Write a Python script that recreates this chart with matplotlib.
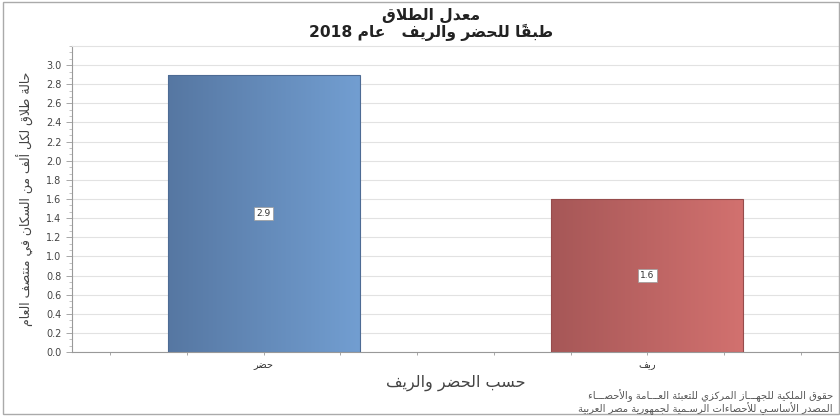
import re
import numpy as np
import matplotlib
matplotlib.use('Agg')
import matplotlib.pyplot as plt
from matplotlib.ticker import MultipleLocator, AutoMinorLocator
from matplotlib.colors import LinearSegmentedColormap
from matplotlib.patches import Rectangle

# Data
categories = ['حضر', 'ريف']
values = [2.9, 1.6]
title_1 = 'معدل الطلاق'
title_2 = 'طبقاً للحضر والريف   عام 2018'
x_title = 'حسب الحضر والريف'
y_title = 'حالة طلاق لكل ألف من السكان في منتصف العام'
footer_1 = 'حقوق الملكية للجهـــاز المركزي للتعبئة العـــامة والأحصـــاء'
footer_2 = 'المصدر الأساسـي للأحصاءات الرسـمية لجمهورية مصر العربية'

# Arabic presentation forms: (isolated, final, initial, medial)
FORMS = {
    'ء': ('\uFE80', None, None, None),
    'أ': ('\uFE83', '\uFE84', None, None),
    'ا': ('\uFE8D', '\uFE8E', None, None),
    'ب': ('\uFE8F', '\uFE90', '\uFE91', '\uFE92'),
    'ة': ('\uFE93', '\uFE94', None, None),
    'ت': ('\uFE95', '\uFE96', '\uFE97', '\uFE98'),
    'ئ': ('\uFE89', '\uFE8A', '\uFE8B', '\uFE8C'),
    'ج': ('\uFE9D', '\uFE9E', '\uFE9F', '\uFEA0'),
    'ح': ('\uFEA1', '\uFEA2', '\uFEA3', '\uFEA4'),
    'د': ('\uFEA9', '\uFEAA', None, None),
    'ر': ('\uFEAD', '\uFEAE', None, None),
    'ز': ('\uFEAF', '\uFEB0', None, None),
    'س': ('\uFEB1', '\uFEB2', '\uFEB3', '\uFEB4'),
    'ص': ('\uFEB9', '\uFEBA', '\uFEBB', '\uFEBC'),
    'ض': ('\uFEBD', '\uFEBE', '\uFEBF', '\uFEC0'),
    'ط': ('\uFEC1', '\uFEC2', '\uFEC3', '\uFEC4'),
    'ع': ('\uFEC9', '\uFECA', '\uFECB', '\uFECC'),
    'ف': ('\uFED1', '\uFED2', '\uFED3', '\uFED4'),
    'ق': ('\uFED5', '\uFED6', '\uFED7', '\uFED8'),
    'ك': ('\uFED9', '\uFEDA', '\uFEDB', '\uFEDC'),
    'ل': ('\uFEDD', '\uFEDE', '\uFEDF', '\uFEE0'),
    'م': ('\uFEE1', '\uFEE2', '\uFEE3', '\uFEE4'),
    'ن': ('\uFEE5', '\uFEE6', '\uFEE7', '\uFEE8'),
    'ه': ('\uFEE9', '\uFEEA', '\uFEEB', '\uFEEC'),
    'و': ('\uFEED', '\uFEEE', None, None),
    'ي': ('\uFEF1', '\uFEF2', '\uFEF3', '\uFEF4'),
    'ى': ('\uFEEF', '\uFEF0', None, None),
    'ـ': ('\u0640', '\u0640', '\u0640', '\u0640'),
}
LAM_ALEF = {'ا': ('\uFEFB', '\uFEFC'), 'أ': ('\uFEF7', '\uFEF8')}
MARKS = set('\u064B\u064C\u064D\u064E\u064F\u0650\u0651\u0652')


def ar(text):
    # join letters, then lay out right-to-left
    chars = list(text)
    letters = [i for i, c in enumerate(chars) if c not in MARKS]

    def nxt(k):
        return chars[letters[k + 1]] if k + 1 < len(letters) else None

    clusters = []
    prev_joins = False
    k = 0
    while k < len(letters):
        c = chars[letters[k]]
        if c not in FORMS:
            clusters.append(c)
            prev_joins = False
            k += 1
            continue
        f = FORMS[c]
        jp = prev_joins and f[1] is not None
        n = nxt(k)
        if c == 'ل' and n in LAM_ALEF:
            clusters.append(LAM_ALEF[n][1 if jp else 0])
            prev_joins = False
            k += 2
            continue
        jn = f[2] is not None and n in FORMS and FORMS[n][1] is not None
        g = f[3] if (jp and jn) else f[1] if jp else f[2] if jn else f[0]
        # attach following marks
        j = letters[k] + 1
        while j < len(chars) and chars[j] in MARKS:
            g += chars[j]
            j += 1
        clusters.append(g)
        prev_joins = jn
        k += 1
    s = ''.join(clusters[::-1])
    return re.sub(r'[0-9A-Za-z.]+', lambda m: m.group(0)[::-1], s)


plt.rcParams['font.family'] = 'DejaVu Sans'

fig = plt.figure(figsize=(8.4, 4.2), dpi=100)
ax = fig.add_axes([72 / 840, 1 - 352 / 420, 767 / 840, 306 / 420])

x = np.arange(len(categories))
bars = ax.bar(x, values, width=0.5, color='none', zorder=2)

grads = [('#5677a2', '#729ed1', '#4d6b94'), ('#a65757', '#d2716f', '#964c4c')]
for b, (c0, c1, ec) in zip(bars, grads):
    cmap = LinearSegmentedColormap.from_list('g', [c0, c1])
    bx, by = b.get_x(), b.get_y()
    im = ax.imshow(np.linspace(0, 1, 256).reshape(1, -1), cmap=cmap, aspect='auto',
                   extent=[bx, bx + b.get_width(), by, by + b.get_height()], zorder=2)
    im.set_clip_path(b)
    b.set_edgecolor(ec)
    b.set_linewidth(0.8)
    b.set_zorder(3)

for xi, v in zip(x, values):
    ax.text(xi, v / 2, str(v), ha='center', va='center', fontsize=6.5, color='#333333',
            bbox=dict(boxstyle='square,pad=0.25', fc='white', ec='#999999', lw=0.5), zorder=4)

ax.set_xlim(-0.5, 1.5)
ax.set_ylim(0, 3.2)
ax.set_yticks(np.arange(0, 3.01, 0.2))
ax.yaxis.set_minor_locator(AutoMinorLocator(3))
ax.yaxis.set_major_formatter(matplotlib.ticker.FormatStrFormatter('%.1f'))
ax.set_xticks(x)
ax.set_xticklabels([ar(c) for c in categories], fontsize=7, color='#333333')
ax.xaxis.set_minor_locator(MultipleLocator(0.2))
ax.tick_params(axis='y', labelsize=7, labelcolor='#444444', color='#999999', length=4, width=0.6)
ax.tick_params(axis='y', which='minor', color='#aaaaaa', length=2, width=0.5)
ax.tick_params(axis='x', which='both', color='#999999', length=2, width=0.6)
ax.grid(axis='y', color='#e2e2e2', lw=0.8, zorder=0)
ax.set_axisbelow(True)
ax.spines['right'].set_visible(False)
ax.spines['top'].set_color('#e2e2e2')
ax.spines['top'].set_linewidth(0.8)
for s in ['left', 'bottom']:
    ax.spines[s].set_color('#999999')
    ax.spines[s].set_linewidth(0.8)

ax.set_xlabel(ar(x_title), fontsize=11.5, color='#444444', labelpad=4)
ax.set_ylabel(ar(y_title), fontsize=9, color='#444444', labelpad=9)

fig.text(431 / 840, 1 - 15 / 420, ar(title_1), ha='center', va='center',
         fontsize=11.2, fontweight='bold', color='#222222')
fig.text(431 / 840, 1 - 32 / 420, ar(title_2), ha='center', va='center',
         fontsize=11.2, fontweight='bold', color='#222222')
fig.text(833 / 840, 1 - 396 / 420, ar(footer_1), ha='right', va='center', fontsize=7.2, color='#555555')
fig.text(833 / 840, 1 - 409 / 420, ar(footer_2), ha='right', va='center', fontsize=7.2, color='#555555')

fig.patches.append(Rectangle((3 / 840, 1 - 414 / 420), 836 / 840, 412 / 420, transform=fig.transFigure,
                             fill=False, ec='#aaaaaa', lw=1))

fig.savefig('out.png', dpi=100)
